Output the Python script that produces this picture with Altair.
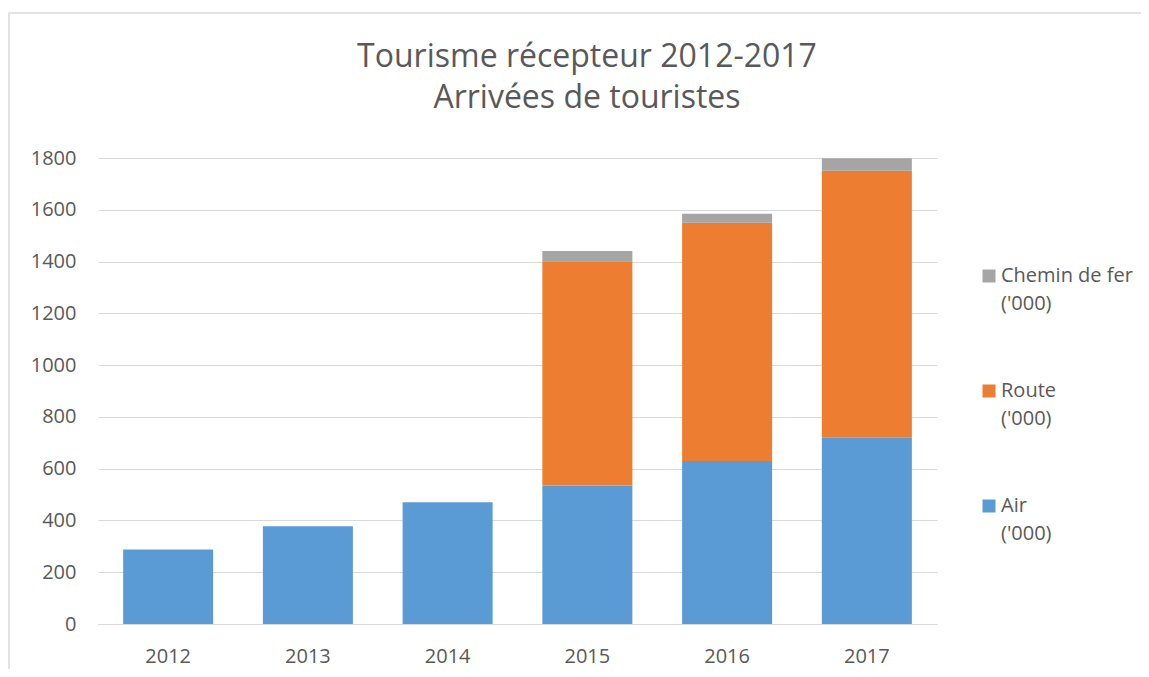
import altair as alt
import pandas as pd

years = ["2012", "2013", "2014", "2015", "2016", "2017"]
air = [288, 378, 470, 535, 630, 719]
route = [0, 0, 0, 866, 920, 1032]
rail = [0, 0, 0, 40, 35, 48]

title_lines = ["Tourisme récepteur 2012-2017", "Arrivées de touristes"]
series_names = ["Chemin de fer\n('000)", "Route\n('000)", "Air\n('000)"]
series_colors = ["#a5a5a5", "#ed7d31", "#5b9bd5"]

rows = []
for i, y in enumerate(years):
    for name, vals, order in [(series_names[2], air, 0), (series_names[1], route, 1), (series_names[0], rail, 2)]:
        if vals[i] > 0:
            rows.append({"year": y, "series": name, "value": vals[i], "ord": order})
df = pd.DataFrame(rows)

bars = alt.Chart(df).mark_bar().encode(
    x=alt.X("year:N", sort=years, title=None,
            scale=alt.Scale(paddingInner=0.356, paddingOuter=0.18),
            axis=alt.Axis(labelAngle=0, labelFontSize=20, labelColor="#595959", labelFont="Open Sans",
                          ticks=False, domainColor="#d9d9d9", labelPadding=22)),
    y=alt.Y("value:Q", stack="zero", title=None,
            scale=alt.Scale(domain=[0, 1800], nice=False),
            axis=alt.Axis(values=list(range(0, 1801, 200)), format="d", labelFontSize=20,
                          labelColor="#595959", labelFont="Open Sans", ticks=False, domain=False,
                          gridColor="#d9d9d9", labelPadding=22)),
    color=alt.Color("series:N", scale=alt.Scale(domain=series_names, range=series_colors),
                    legend=alt.Legend(title=None, orient="none", legendX=881, legendY=108,
                                      labelExpr="split(datum.label, '\\n')",
                                      labelFontSize=20, labelColor="#595959", labelFont="Open Sans",
                                      symbolType="square", symbolSize=169, symbolStrokeWidth=0,
                                      labelBaseline="middle", rowPadding=67, labelOffset=2)),
    order=alt.Order("ord:Q"),
)

one = pd.DataFrame({"a": [0]})

frame = alt.Chart(one).mark_rect(
    filled=False, stroke="#d9d9d9", strokeWidth=1.5, clip=False
).encode(x=alt.value(-89), x2=alt.value(1200), y=alt.value(-145), y2=alt.value(700))

title = alt.Chart(one).mark_text(
    font="Open Sans", fontSize=32, color="#595959", align="center", baseline="alphabetic",
    lineHeight=41, clip=False
).encode(x=alt.value(489), y=alt.value(-91), text=alt.value(title_lines))

chart = alt.layer(frame, title, bars).properties(
    width=839, height=466,
    autosize=alt.AutoSizeParams(type="none"),
    padding={"left": 90, "top": 150, "right": 204, "bottom": 45},
).configure(style={"guide-label": {"lineHeight": 28}}).configure_view(stroke=None)

chart.save("out.html", embed_options={"renderer": "svg", "actions": False})
